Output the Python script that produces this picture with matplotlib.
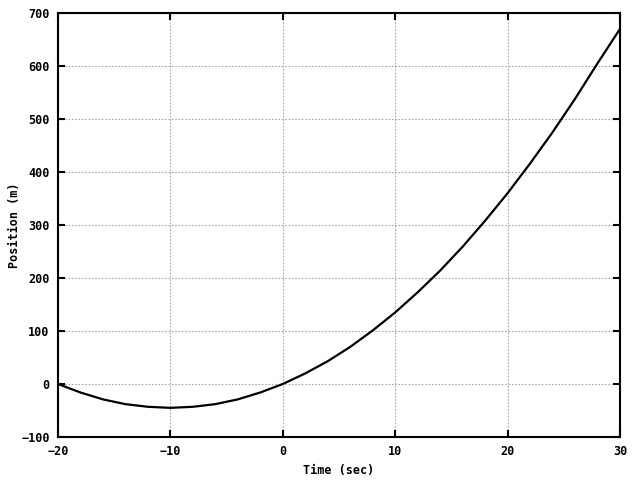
import matplotlib
matplotlib.use('Agg')
import matplotlib.pyplot as plt

# values
time_sec = [-20, -18, -16, -14, -12, -10, -8, -6, -4, -2, 0, 2, 4, 6, 8, 10, 12, 14,
            16, 18, 20, 22, 24, 26, 28, 30]
position_m = [0, -16, -29, -38, -43, -45, -43, -38, -29, -16, 0, 20, 43, 70, 101,
              135, 173, 214, 259, 308, 360, 416, 475, 538, 605, 670]

xticks = [-20, -10, 0, 10, 20, 30]
yticks = [-100, 0, 100, 200, 300, 400, 500, 600, 700]

plt.rcParams['font.family'] = 'DejaVu Sans Mono'
plt.rcParams['font.weight'] = 'bold'
plt.rcParams['font.size'] = 8.5

fig = plt.figure(figsize=(6.4, 4.8), dpi=100)
ax = fig.add_axes([0.0906, 0.0896, 0.878, 0.883])

ax.plot(time_sec, position_m, color='black', linewidth=1.6)

ax.set_xlim(-20, 30)
ax.set_ylim(-100, 700)
ax.set_xticks(xticks)
ax.set_yticks(yticks)
ax.grid(True, color='#a8a8a8', linestyle=(0, (1.5, 1.5)), linewidth=0.8)
ax.tick_params(direction='in', length=5, width=1.5, top=True, right=True, pad=6)
for s in ax.spines.values():
    s.set_linewidth(1.5)

ax.set_xlabel('Time (sec)', fontweight='bold', labelpad=4)
ax.set_ylabel('Position (m)', fontweight='bold', labelpad=0)

fig.savefig('out.png', dpi=100)
